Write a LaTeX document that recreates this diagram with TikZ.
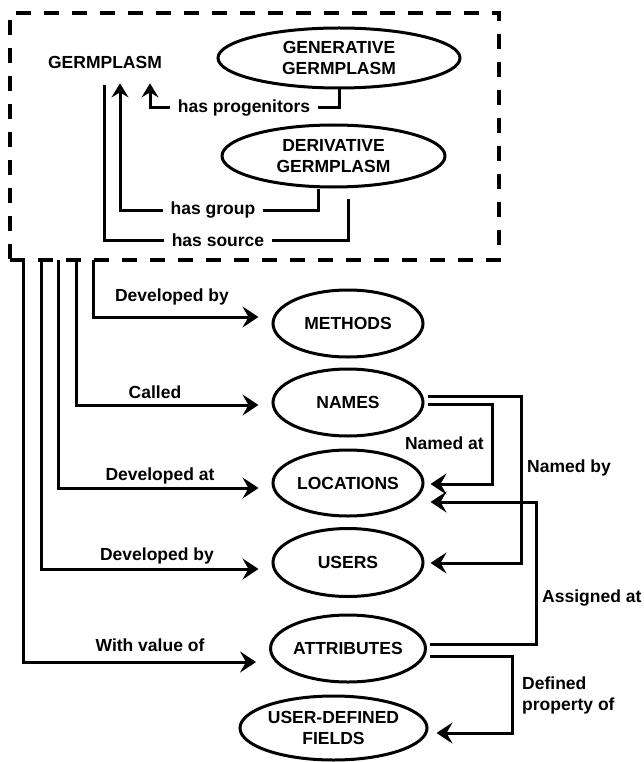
\documentclass[tikz,border=0pt]{standalone}
\usepackage{fontspec}
\setmainfont{Liberation Sans}
\usetikzlibrary{shapes.geometric,arrows.meta}
\begin{document}
\begin{tikzpicture}[x=1pt,y=-1pt,
  every node/.style={font=\fontsize{17.5}{21}\selectfont\bfseries},
  ent/.style={ellipse,draw,line width=3pt,inner sep=0pt,align=center},
  lbl/.style={inner xsep=8pt,inner ysep=0pt},
  conn/.style={line width=3pt},
  arr/.style={conn,-{Stealth[length=16pt,width=21pt,inset=6pt]}},
  arrs/.style={conn,-{Stealth[length=14pt,width=17pt,inset=5pt]}},
  dashbox/.style={draw,dash pattern=on 15pt off 13pt,line width=4pt,inner sep=0pt,outer sep=0pt}]
\useasboundingbox (0,0) rectangle (644,762);
% group box
\node[dashbox,minimum width=489pt,minimum height=247pt] (gbox) at (254.5,136.5) {};
\node[inner sep=0pt] (germ) at (105,62) {GERMPLASM};
\node[ent,minimum width=242pt,minimum height=60pt] (gen) at (339,58) {GENERATIVE\\GERMPLASM};
\node[ent,minimum width=223pt,minimum height=62pt] (deriv) at (333.5,156) {DERIVATIVE\\GERMPLASM};
\node[lbl] (hp) at (244,108) {has progenitors};
\node[lbl] (hg) at (213,210) {has group};
\node[lbl] (hs) at (218,240) {has source};
\draw[conn] (gen.south) |- (hp.east);
\draw[arrs] (hp.west) -| ([xshift=45pt,yshift=-15pt]germ.south);
\draw[conn] ([xshift=-15pt]deriv.south) |- (hg.east);
\draw[arrs] (hg.west) -| ([xshift=15pt,yshift=-15pt]germ.south);
\draw[conn] ([xshift=15pt,yshift=-10pt]deriv.south) |- (hs.east);
\draw[conn] (hs.west) -| ([xshift=-1pt,yshift=-17pt]germ.south);
% entities
\node[ent,minimum width=150pt,minimum height=67pt] (methods) at (348,323.5) {METHODS};
\node[ent,minimum width=150pt,minimum height=67pt] (names) at (348,402.5) {NAMES};
\node[ent,minimum width=150pt,minimum height=66pt] (locs) at (348,483) {LOCATIONS};
\node[ent,minimum width=150pt,minimum height=68pt] (users) at (348,562.5) {USERS};
\node[ent,minimum width=150pt,minimum height=67pt] (attr) at (348,648.5) {ATTRIBUTES};
\node[ent,minimum width=187pt,minimum height=64pt] (udf) at (333.5,728) {USER-DEFINED\\FIELDS};
% labels
\node (l1) at (172,297) {Developed by};
\node (l2) at (155,392) {Called};
\node (l3) at (160,476) {Developed at};
\node (l4) at (157,556) {Developed by};
\node (l5) at (150,645) {With value of};
\node[anchor=east,inner sep=0pt] (l6) at (484,443) {Named at};
\node[anchor=west,inner sep=0pt] (l7) at (527,468) {Named by};
\node[anchor=west,inner sep=0pt] (l8) at (542,598) {Assigned at};
\node[anchor=west,inner sep=0pt,align=left] (l9) at (522,695) {Defined\\property of};
% left connectors
\draw[arr] ([xshift=83pt]gbox.south west) |- ([xshift=-13pt,yshift=6.5pt]methods.west);
\draw[arr] ([xshift=66pt]gbox.south west) |- ([xshift=-13pt,yshift=-2.5pt]names.west);
\draw[arr] ([xshift=48pt]gbox.south west) |- ([xshift=-13pt,yshift=-5pt]locs.west);
\draw[arr] ([xshift=31pt]gbox.south west) |- ([xshift=-13pt,yshift=-6.5pt]users.west);
\draw[arr] ([xshift=13pt]gbox.south west) |- ([xshift=-13pt,yshift=-13.5pt]attr.west);
% right connectors
\draw[arr] ([xshift=3pt,yshift=-1.5pt]names.east) -- ++(65,0) |- ([xshift=6pt,yshift=-1pt]locs.east);
\draw[arr] ([xshift=3pt,yshift=6.5pt]names.east) -- ++(94,0) |- ([xshift=6pt,yshift=-0.5pt]users.east);
\draw[arr] ([xshift=3pt,yshift=4.5pt]attr.east) -- ++(107,0) |- ([xshift=6pt,yshift=-19pt]locs.east);
\draw[arr] ([xshift=3pt,yshift=-7.5pt]attr.east) -- ++(83,0) |- ([xshift=8pt,yshift=-5pt]udf.east);
\end{tikzpicture}
\end{document}
